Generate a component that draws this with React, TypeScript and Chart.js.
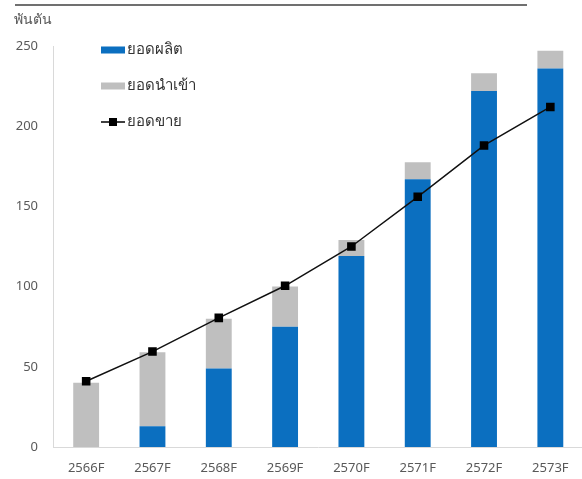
import React, { useEffect, useRef } from "react";
import { Chart, registerables } from "chart.js";

Chart.register(...registerables);

const categories = ["2566F", "2567F", "2568F", "2569F", "2570F", "2571F", "2572F", "2573F"];
const production = [0, 13, 49, 75, 119, 167, 222, 236];
const imports = [40, 46, 31, 25, 10, 10.5, 11, 11];
const sales = [41, 59.5, 80.5, 100.5, 125, 156, 188, 212];
const yTicks = [0, 50, 100, 150, 200, 250];
const unitLabel = "พันตัน";
const seriesLabels = ["ยอดผลิต", "ยอดนำเข้า", "ยอดขาย"];

const BLUE = "#0B6FC0";
const GRAY = "#BFBFBF";
const TEXT = "#595959";
const FONT = "'Noto Sans', Lato, sans-serif";

const decorPlugin = {
  id: "decor",
  afterDraw(chart: any) {
    const ctx = chart.ctx;
    const area = chart.chartArea;
    ctx.save();
    // top rule
    ctx.strokeStyle = "#404040";
    ctx.lineWidth = 1.5;
    ctx.beginPath();
    ctx.moveTo(15, 5);
    ctx.lineTo(527, 5);
    ctx.stroke();
    // unit label
    ctx.fillStyle = TEXT;
    ctx.font = `14px ${FONT}`;
    ctx.textBaseline = "middle";
    ctx.textAlign = "left";
    ctx.fillText(unitLabel, 14, 20);
    // legend
    const lx = area.left + 48;
    const rows = [area.top + 4, area.top + 40, area.top + 76];
    ctx.font = `15px ${FONT}`;
    ctx.fillStyle = BLUE;
    ctx.fillRect(lx, rows[0] - 3.5, 24, 7);
    ctx.fillStyle = GRAY;
    ctx.fillRect(lx, rows[1] - 3.5, 24, 7);
    ctx.strokeStyle = "#000";
    ctx.lineWidth = 1.5;
    ctx.beginPath();
    ctx.moveTo(lx, rows[2]);
    ctx.lineTo(lx + 24, rows[2]);
    ctx.stroke();
    ctx.fillStyle = "#000";
    ctx.fillRect(lx + 8, rows[2] - 4, 8, 8);
    ctx.fillStyle = "#333";
    seriesLabels.forEach((t, i) => ctx.fillText(t, lx + 26, rows[i]));
    ctx.restore();
  },
};

export default function App() {
  const ref = useRef<HTMLCanvasElement>(null);
  useEffect(() => {
    if (!ref.current) return;
    const chart = new Chart(ref.current, {
      type: "bar",
      data: {
        labels: categories,
        datasets: [
          {
            type: "line",
            label: seriesLabels[2],
            data: sales,
            borderColor: "#111",
            borderWidth: 1.5,
            pointStyle: "rect",
            pointRadius: 5,
            pointBackgroundColor: "#000",
            pointBorderColor: "#000",
            stack: "sales",
            order: 0,
          } as any,
          {
            label: seriesLabels[0],
            data: production,
            backgroundColor: BLUE,
            stack: "supply",
            order: 1,
            categoryPercentage: 1,
            barPercentage: 0.39,
          },
          {
            label: seriesLabels[1],
            data: imports,
            backgroundColor: GRAY,
            stack: "supply",
            order: 1,
            categoryPercentage: 1,
            barPercentage: 0.39,
          },
        ],
      },
      options: {
        responsive: false,
        animation: false,
        layout: { padding: { top: 46, right: 3, left: 0, bottom: 0 } },
        plugins: { legend: { display: false }, tooltip: { enabled: false } },
        scales: {
          x: {
            stacked: true,
            grid: { display: false, drawTicks: false },
            border: { display: true, color: "#D9D9D9", width: 1 },
            ticks: { color: TEXT, font: { family: FONT, size: 13 }, padding: 13 },
            afterFit: (s: any) => {
              s.height = 32;
            },
          },
          y: {
            stacked: true,
            min: 0,
            max: 250,
            afterBuildTicks: (s: any) => {
              s.ticks = yTicks.map((v) => ({ value: v }));
            },
            grid: { display: false, drawTicks: false },
            border: { display: true, color: "#D9D9D9", width: 1 },
            ticks: { color: TEXT, font: { family: FONT, size: 13 }, padding: 15 },
            afterFit: (s: any) => {
              s.width = 53;
            },
          },
        },
      },
      plugins: [decorPlugin],
    });
    return () => chart.destroy();
  }, []);
  return (
    <div style={{ position: "fixed", left: 0, top: 0, width: 582, height: 479, overflow: "hidden", background: "#fff" }}>
      <canvas ref={ref} width={590} height={479} style={{ display: "block" }} />
    </div>
  );
}
